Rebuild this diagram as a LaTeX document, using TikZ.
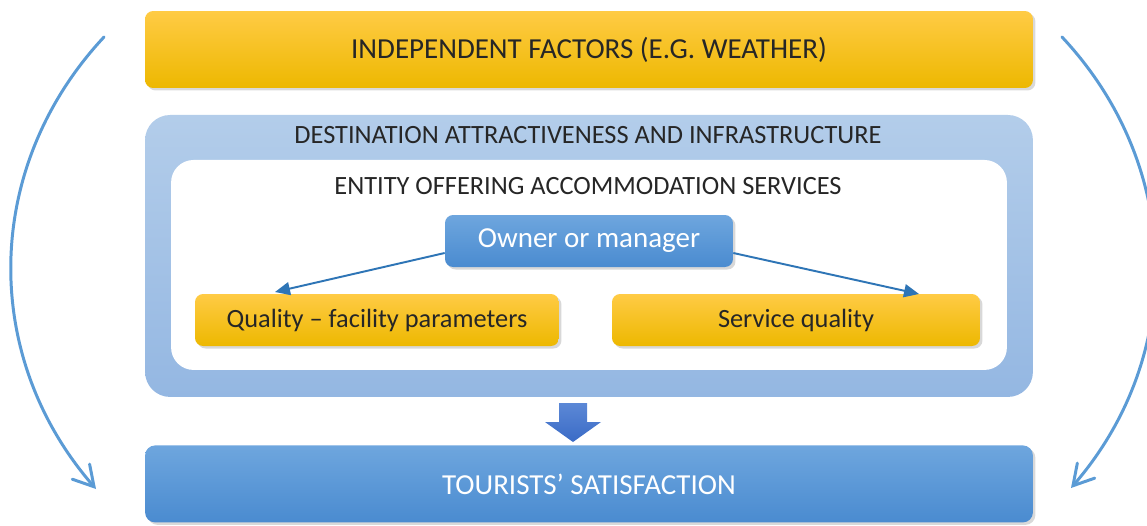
\documentclass[tikz,border=0pt]{standalone}
\usepackage{fontspec}
\setmainfont{Carlito}
\usetikzlibrary{arrows.meta,shadows}

\definecolor{amarilloA}{HTML}{FFCB45}
\definecolor{amarilloB}{HTML}{FFC000}
\definecolor{amarilloC}{HTML}{EDB800}
\definecolor{azulA}{HTML}{6EA6DE}
\definecolor{azulB}{HTML}{4A8BD0}
\definecolor{celesteA}{HTML}{B3CDEA}
\definecolor{celesteB}{HTML}{94B7E2}
\definecolor{flechaA}{HTML}{5C88D6}
\definecolor{flechaB}{HTML}{3A6BC6}
\definecolor{azulOscuro}{HTML}{2E75B6}
\definecolor{azulCurva}{HTML}{5B9BD5}
\definecolor{texto}{HTML}{262626}

\tikzset{
  cajaAmarilla/.style={rectangle, rounded corners=0.16cm, top color=amarilloA, middle color=amarilloB, bottom color=amarilloC, text=texto, drop shadow={opacity=0.3, shadow xshift=0.05cm, shadow yshift=-0.05cm}},
  cajaAzul/.style={rectangle, rounded corners=0.16cm, top color=azulA, bottom color=azulB, text=white, drop shadow={opacity=0.3, shadow xshift=0.05cm, shadow yshift=-0.05cm}},
  curva/.style={azulCurva, line width=1.7pt, line cap=round, -{Straight Barb[length=0.4cm, width=0.46cm, line cap=round]}},
  enlace/.style={azulOscuro, line width=1.1pt, -{Triangle[length=0.3cm, width=0.26cm]}}
}

\begin{document}
\begin{tikzpicture}[x=0.02cm, y=-0.02cm, node distance=2cm]
    \useasboundingbox (0,0) rectangle (1147,525);

    % Factores independientes
    \node (factores) [cajaAmarilla, minimum width=17.76cm, minimum height=1.54cm, font=\fontsize{16.5}{18}\selectfont] at (589,49.5)
    {INDEPENDENT FACTORS (E.G. WEATHER)};

    % Destino e infraestructura
    \node (destino) [below of=factores, node distance=4.13cm, rectangle, rounded corners=0.5cm, top color=celesteA, bottom color=celesteB, minimum width=17.76cm, minimum height=5.64cm] {};
    \node (entidad) [below of=destino, node distance=0.18cm, rectangle, rounded corners=0.45cm, fill=white, minimum width=16.72cm, minimum height=4.2cm] {};
    \node (tituloDestino) [text=texto, font=\fontsize{15}{18}\selectfont] at (588,135) {DESTINATION ATTRACTIVENESS AND INFRASTRUCTURE};
    \node (tituloEntidad) [text=texto, font=\fontsize{15}{18}\selectfont] at (588,186) {ENTITY OFFERING ACCOMMODATION SERVICES};

    % Propietario y calidades
    \node (duenio) [cajaAzul, minimum width=5.76cm, minimum height=1.04cm, font=\fontsize{16.5}{18}\selectfont] at (589,241) {Owner or manager};
    \node (calidad) [cajaAmarilla, minimum width=7.28cm, minimum height=1.04cm, font=\fontsize{15}{18}\selectfont] at (377,320) {Quality -- facility parameters};
    \node (servicio) [cajaAmarilla, minimum width=7.36cm, minimum height=1.04cm, font=\fontsize{15}{18}\selectfont] at (796,320) {Service quality};

    % Flechas desde el propietario
    \coordinate (puntaIzq) at (275,292);
    \coordinate (puntaDer) at (919,294);
    \draw[enlace] (duenio.west |- 0,253) -- (puntaIzq);
    \draw[enlace] (duenio.east |- 0,253) -- (puntaDer);

    % Satisfaccion de los turistas
    \node (satisfaccion) [below of=destino, node distance=4.56cm, cajaAzul, rounded corners=0.2cm, minimum width=17.76cm, minimum height=1.54cm, font=\fontsize{16.5}{18}\selectfont]
    {TOURISTS’ SATISFACTION};

    % Flecha gruesa hacia abajo
    \coordinate (punta) at (573,442);
    \shade[top color=flechaA, bottom color=flechaB] (punta) -- ++(-28,-20) -- ++(14,0) -- ++(0,-19) -- ++(28,0) -- ++(0,19) -- ++(14,0) -- cycle;

    % Flechas curvas laterales
    \coordinate (izqA) at (104,37);
    \coordinate (izqB) at (96,489);
    \coordinate (derA) at (1062,37);
    \coordinate (derB) at (1071,488);
    \draw[curva] (izqA) to[bend right=42] (izqB);
    \draw[curva] (derA) to[bend left=42] (derB);

\end{tikzpicture}
\end{document}
